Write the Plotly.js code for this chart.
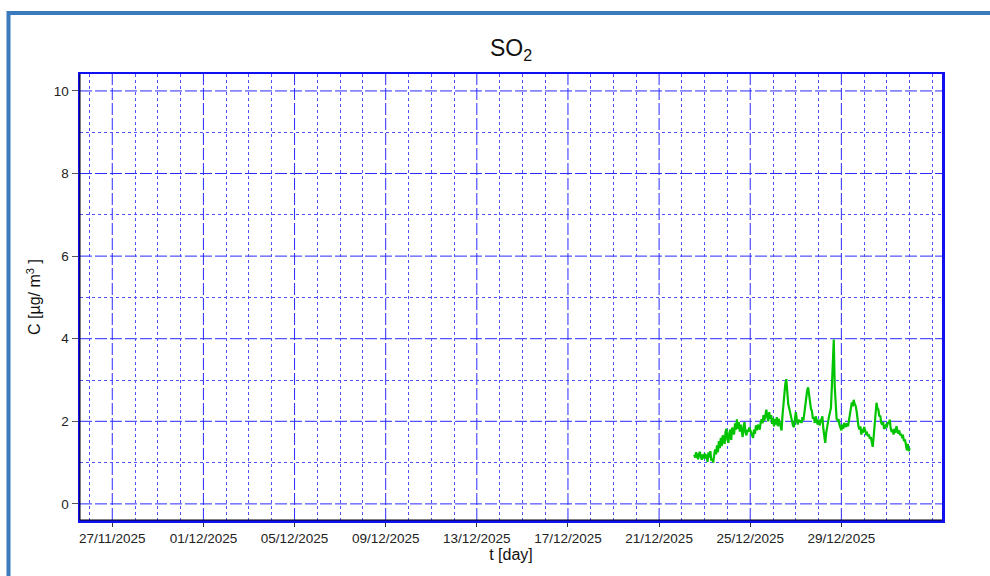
<!DOCTYPE html>
<html>
<head>
<meta charset="utf-8">
<script src="https://cdn.plot.ly/plotly-3.0.1.min.js"></script>
<style>
  html, body { margin: 0; padding: 0; background: #ffffff; }
  #chart { width: 990px; height: 576px; }
</style>
</head>
<body>
<div id="chart"></div>
<script>
// ---- data ----
const seriesName = "SO2";
const startTime = "2025-12-22T13:00:00";   // first hourly sample
const stepHours = 1;
const so2Values = [
  1.19,1.12,1.25,1.15,1.08,1.22,1.26,1.13,1.07,1.2,1.1,1.22,
  1.1,1.2,1.02,1.25,1.12,1.28,1.05,1.1,1.0,1.18,1.32,1.2,
  1.42,1.25,1.52,1.35,1.6,1.4,1.66,1.58,1.45,1.75,1.82,1.55,
  1.48,1.72,1.8,1.55,1.85,1.78,1.68,1.95,1.8,2.05,1.82,1.98,
  1.75,1.92,1.7,1.62,1.88,1.98,1.72,1.66,1.8,1.74,1.85,1.78,
  1.72,1.64,1.6,1.8,1.7,1.9,1.78,1.92,1.86,1.8,1.98,2.05,
  1.95,2.15,2.02,2.22,2.28,2.1,2.0,2.22,2.06,2.15,1.94,2.08,
  1.88,2.05,1.92,2.1,1.88,2.06,1.96,1.84,1.78,2.15,2.45,2.75,
  2.92,3.02,2.7,2.42,2.32,2.22,2.08,1.96,1.9,1.86,2.08,2.22,
  2.05,1.92,2.04,1.98,2.02,1.96,2.1,2.02,2.2,2.4,2.6,2.75,
  2.82,2.62,2.48,2.3,2.25,2.06,2.1,1.96,2.12,2.0,1.92,2.04,
  1.9,1.98,2.08,2.12,1.82,1.62,1.48,1.72,1.88,1.94,2.12,2.22,
  2.32,2.85,3.55,3.98,2.85,2.22,2.06,2.02,2.05,1.92,1.84,1.78,
  1.92,1.82,1.96,1.9,1.86,1.95,1.88,2.02,2.18,2.32,2.46,2.36,
  2.52,2.42,2.38,2.25,2.02,1.88,1.8,1.88,1.68,1.78,1.76,1.86,
  1.78,1.7,1.72,1.64,1.68,1.58,1.62,1.45,1.38,1.62,1.92,2.22,
  2.45,2.32,2.28,2.12,2.14,1.96,1.92,1.98,1.82,1.84,1.9,1.88,
  1.98,1.94,2.04,1.82,1.74,1.8,1.68,1.82,1.72,1.88,1.78,1.7,
  1.78,1.66,1.7,1.62,1.64,1.52,1.56,1.38,1.3,1.45,1.28,1.35
];
const xTickValues = ["2025-11-27","2025-12-01","2025-12-05","2025-12-09",
                     "2025-12-13","2025-12-17","2025-12-21","2025-12-25","2025-12-29"];
const xRange = ["2025-11-25 14:00", "2026-01-02 10:00"];
const yRange = [-0.39, 10.41];
const yTickValues = [0, 2, 4, 6, 8, 10];
const yMinorTickValues = [1, 3, 5, 7, 9];

// timestamps for each sample
function pad(n){ return String(n).padStart(2, "0"); }
function fmt(d){
  return d.getUTCFullYear() + "-" + pad(d.getUTCMonth() + 1) + "-" + pad(d.getUTCDate()) +
         " " + pad(d.getUTCHours()) + ":00";
}
const t0 = new Date(startTime + "Z").getTime();
const times = so2Values.map((_, i) => fmt(new Date(t0 + i * stepHours * 3600000)));

// daily grid positions that are not labelled 4-day positions
const xMinorTickValues = [];
{
  const first = new Date("2025-11-26T00:00:00Z").getTime();
  const last = new Date("2026-01-02T00:00:00Z").getTime();
  for (let t = first; t <= last; t += 86400000) {
    const s = fmt(new Date(t)).slice(0, 10);
    if (!xTickValues.includes(s)) xMinorTickValues.push(s);
  }
}

const FONT = "Liberation Sans, Arial, sans-serif";
const majorGrid = "#2a2aff";
const minorGrid = "#4f4fff";

const traces = [
  {
    x: times, y: so2Values, type: "scatter", mode: "lines", name: seriesName,
    line: { color: "#00c400", width: 2.2 }, hoverinfo: "skip"
  }
];

// major grid lines (dashed) at the labelled tick positions
const gridShapes = [];
xTickValues.forEach(v => gridShapes.push({
  type: "line", layer: "below", xref: "x", yref: "paper", x0: v, x1: v, y0: 0, y1: 1,
  line: { color: majorGrid, width: 1, dash: "12px,3px" }
}));
yTickValues.forEach(v => gridShapes.push({
  type: "line", layer: "below", xref: "paper", yref: "y", x0: 0, x1: 1, y0: v, y1: v,
  line: { color: majorGrid, width: 1, dash: "12px,3px" }
}));

const layout = {
  width: 990,
  height: 576,
  margin: { l: 80, r: 48, t: 74, b: 56 },
  paper_bgcolor: "#ffffff",
  plot_bgcolor: "#ffffff",
  showlegend: false,
  hovermode: false,
  font: { family: FONT, color: "#222222", size: 13 },
  title: {
    text: "SO<sub>2</sub>",
    font: { family: FONT, size: 23, color: "#111111" },
    x: 0.5, xref: "paper", xanchor: "center",
    y: 1 - 48 / 576, yref: "container", yanchor: "middle"
  },
  xaxis: {
    type: "date", range: xRange,
    tickvals: xTickValues, tickformat: "%d/%m/%Y",
    ticks: "outside", ticklen: 4, tickcolor: "#333333",
    tickfont: { family: FONT, size: 13.5, color: "#222222" },
    showgrid: false,
    minor: {
      tickvals: xMinorTickValues, showgrid: true, gridcolor: minorGrid,
      gridwidth: 1, griddash: "dot", ticks: ""
    },
    showline: true, linecolor: "#1010f0", linewidth: 2.5, mirror: true,
    zeroline: false,
    title: { text: "t [day]", font: { family: FONT, size: 16, color: "#111111" }, standoff: 0 }
  },
  yaxis: {
    range: yRange,
    tickvals: yTickValues, ticktext: yTickValues.map(String),
    ticks: "outside", ticklen: 6, tickcolor: "#555555",
    tickfont: { family: FONT, size: 13.5, color: "#222222" },
    showgrid: false,
    minor: {
      tickvals: yMinorTickValues, showgrid: true, gridcolor: minorGrid,
      gridwidth: 1, griddash: "dot", ticks: ""
    },
    showline: true, linecolor: "#1010f0", linewidth: 2.5, mirror: true,
    zeroline: false,
    title: { text: "C [µg/ m<sup>3</sup> ]", font: { family: FONT, size: 16, color: "#111111" }, standoff: 9 }
  },
  shapes: gridShapes.concat([
    // outer frame (top and left)
    { type: "line", xref: "paper", yref: "paper",
      x0: (8.5 - 80) / 862, x1: 1100 / 862, y0: (520 - 13) / 446, y1: (520 - 13) / 446,
      line: { color: "#3a7bbd", width: 4 } },
    { type: "line", xref: "paper", yref: "paper",
      x0: (8.5 - 80) / 862, x1: (8.5 - 80) / 862, y0: (520 - 11) / 446, y1: -100 / 446,
      line: { color: "#3a7bbd", width: 4 } },
    // dark inner axis lines at left and bottom
    { type: "line", xref: "paper", yref: "paper", x0: 0, x1: 0, y0: 0, y1: 1,
      line: { color: "#000000", width: 1 } },
    { type: "line", xref: "paper", yref: "paper", x0: 0, x1: 1, y0: 0, y1: 0,
      line: { color: "#000000", width: 1 } }
  ])
};

Plotly.newPlot("chart", traces, layout, { displayModeBar: false, staticPlot: true });
</script>
</body>
</html>
